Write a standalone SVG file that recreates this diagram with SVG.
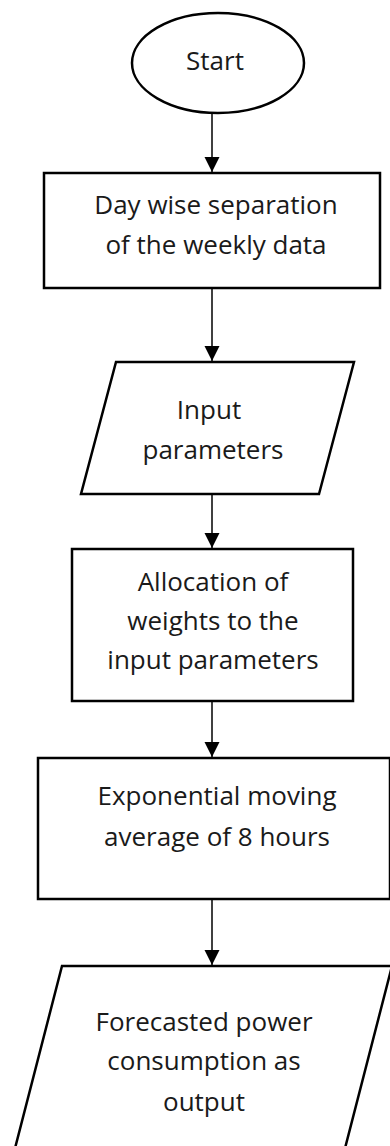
<svg xmlns="http://www.w3.org/2000/svg" width="390" height="1146" viewBox="0 0 390 1146">
<defs>
<style>
.shape{fill:#fff;stroke:#000;stroke-width:2.5}
.conn{stroke:#000;stroke-width:1.5;fill:none}
.lbl{font-family:"Open Sans","Noto Sans","Liberation Sans",sans-serif;font-size:26px;fill:#1a1a1a;text-anchor:middle}
</style>
<marker id="ah" markerWidth="16" markerHeight="16" refX="15" refY="7.5" orient="auto" markerUnits="userSpaceOnUse">
<path d="M0,0 L15,7.5 L0,15 Z" fill="#000"/>
</marker>
</defs>
<rect width="390" height="1146" fill="#fff"/>
<g id="connectors">
<line class="conn" x1="212" y1="113" x2="212" y2="172" marker-end="url(#ah)"/>
<line class="conn" x1="212" y1="288" x2="212" y2="361" marker-end="url(#ah)"/>
<line class="conn" x1="212" y1="494" x2="212" y2="548" marker-end="url(#ah)"/>
<line class="conn" x1="212" y1="701" x2="212" y2="757" marker-end="url(#ah)"/>
<line class="conn" x1="212" y1="899" x2="212" y2="965" marker-end="url(#ah)"/>
</g>
<g id="start">
<ellipse class="shape" cx="218" cy="63" rx="86" ry="50"/>
<text class="lbl" x="215" y="70">Start</text>
</g>
<g id="day-wise">
<rect class="shape" x="44" y="173" width="336" height="115"/>
<text class="lbl" x="216" y="214">Day wise separation</text>
<text class="lbl" x="216" y="254">of the weekly data</text>
</g>
<g id="input">
<polygon class="shape" points="116,362 354,362 319,494 81,494"/>
<text class="lbl" x="209" y="419">Input</text>
<text class="lbl" x="213" y="459">parameters</text>
</g>
<g id="allocation">
<rect class="shape" x="72" y="549" width="281" height="152"/>
<text class="lbl" x="213" y="591">Allocation of</text>
<text class="lbl" x="213" y="630">weights to the</text>
<text class="lbl" x="213" y="669">input parameters</text>
</g>
<g id="ema">
<rect class="shape" x="38" y="758" width="352" height="141"/>
<text class="lbl" x="217" y="805">Exponential moving</text>
<text class="lbl" x="217" y="846">average of 8 hours</text>
</g>
<g id="output">
<polygon class="shape" points="62,966 392,966 342,1160 12,1160"/>
<text class="lbl" x="204" y="1031">Forecasted power</text>
<text class="lbl" x="204" y="1070">consumption as</text>
<text class="lbl" x="204" y="1111">output</text>
</g>
</svg>
